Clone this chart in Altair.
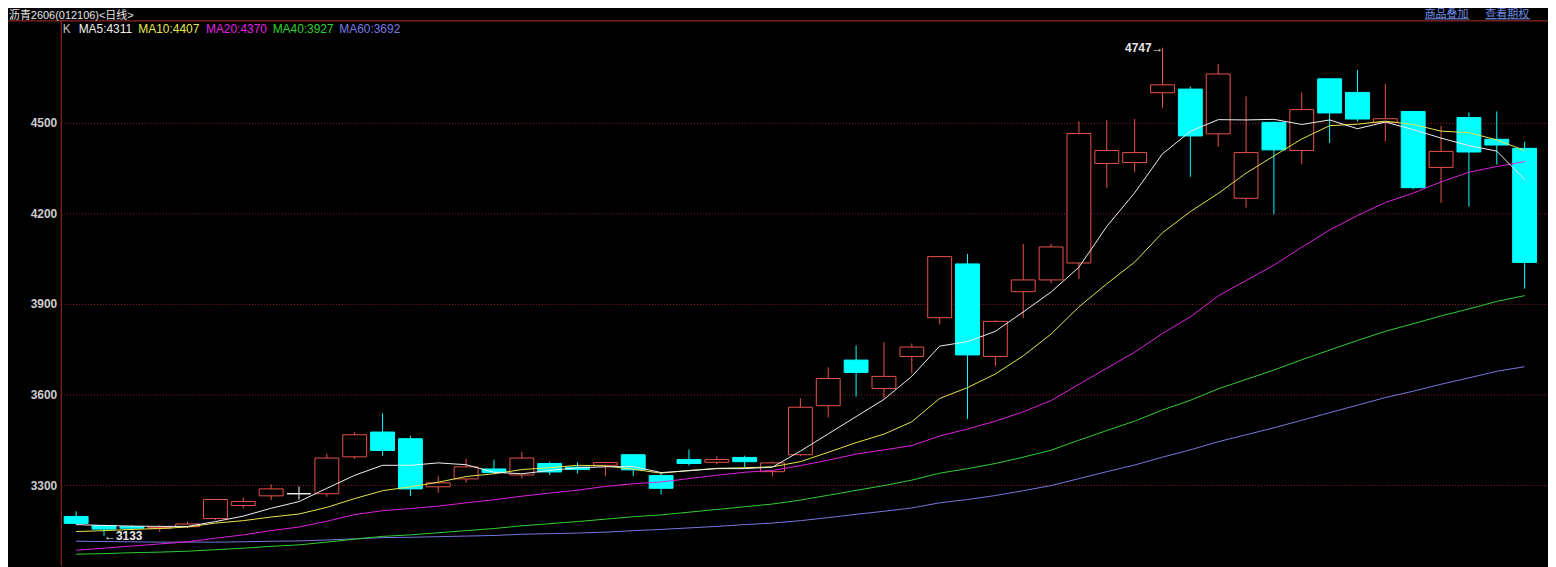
import altair as alt
import pandas as pd

# ---------------- data ----------------
opens = [3197, 3167, 3163, 3158, 3163, 3190, 3233, 3265, 3272, 3272,
         3394, 3476, 3454, 3295, 3321, 3354, 3334, 3372, 3360, 3366,
         3401, 3332, 3385, 3376, 3392, 3345, 3401, 3563, 3714, 3620,
         3726, 3854, 4032, 3726, 3940, 3979, 4035, 4364, 4367, 4598,
         4610, 4462, 4249, 4500, 4407, 4644, 4599, 4500, 4536, 4351,
         4516, 4444, 4414]
highs = [3214, 3170, 3168, 3168, 3180, 3255, 3260, 3303, 3296, 3404,
         3476, 3538, 3464, 3330, 3387, 3385, 3410, 3378, 3376, 3378,
         3401, 3341, 3418, 3396, 3398, 3378, 3588, 3690, 3762, 3773,
         3769, 4056, 4065, 3845, 4098, 4098, 4503, 4507, 4511, 4747,
         4618, 4693, 4586, 4503, 4599, 4644, 4673, 4627, 4536, 4489,
         4533, 4536, 4436]
lows = [3170, 3133, 3152, 3146, 3158, 3185, 3224, 3251, 3253, 3262,
        3387, 3398, 3264, 3275, 3308, 3339, 3323, 3334, 3339, 3330,
        3330, 3270, 3365, 3369, 3358, 3330, 3396, 3524, 3593, 3588,
        3670, 3832, 3519, 3694, 3854, 3968, 3982, 4284, 4335, 4547,
        4320, 4419, 4218, 4196, 4361, 4432, 4503, 4437, 4279, 4234,
        4221, 4361, 3950]
closes = [3174, 3155, 3158, 3161, 3172, 3253, 3246, 3288, 3272, 3390,
          3467, 3415, 3288, 3308, 3361, 3342, 3390, 3344, 3352, 3375,
          3351, 3290, 3372, 3385, 3378, 3374, 3558, 3653, 3673, 3660,
          3757, 4056, 3731, 3842, 3979, 4088, 4463, 4407, 4400, 4624,
          4455, 4660, 4400, 4409, 4542, 4531, 4511, 4512, 4284, 4404,
          4402, 4425, 4037]

ma5 = [3170, 3167, 3165, 3164, 3164, 3180, 3198, 3224, 3246, 3290,
       3333, 3366, 3366, 3374, 3368, 3343, 3338, 3349, 3358, 3361,
       3362, 3342, 3348, 3355, 3355, 3360, 3413, 3470, 3527, 3584,
       3660, 3760, 3775, 3809, 3873, 3939, 4021, 4156, 4267, 4396,
       4470, 4509, 4508, 4510, 4493, 4508, 4479, 4501, 4476, 4448,
       4423, 4405, 4311]
ma10 = [3147, 3150, 3154, 3157, 3162, 3175, 3183, 3195, 3205, 3227,
        3256, 3282, 3295, 3310, 3329, 3338, 3352, 3358, 3366, 3364,
        3353, 3340, 3349, 3356, 3358, 3361, 3378, 3409, 3441, 3469,
        3510, 3587, 3623, 3668, 3728, 3800, 3890, 3966, 4038, 4135,
        4205, 4265, 4332, 4389, 4445, 4489, 4494, 4504, 4493, 4471,
        4466, 4442, 4407]
ma20 = [3085, 3092, 3099, 3106, 3113, 3125, 3136, 3150, 3162, 3181,
        3203, 3216, 3223, 3231, 3242, 3252, 3264, 3274, 3284, 3296,
        3305, 3311, 3322, 3333, 3343, 3349, 3365, 3383, 3403, 3417,
        3431, 3463, 3486, 3512, 3543, 3580, 3634, 3687, 3740, 3802,
        3857, 3926, 3977, 4028, 4087, 4144, 4192, 4235, 4266, 4303,
        4335, 4354, 4370]
ma40 = [3072, 3074, 3077, 3079, 3082, 3087, 3092, 3098, 3103, 3112,
        3122, 3131, 3136, 3143, 3150, 3157, 3166, 3173, 3180, 3188,
        3196, 3202, 3211, 3220, 3229, 3238, 3251, 3267, 3283, 3299,
        3317, 3340, 3355, 3372, 3393, 3416, 3449, 3481, 3512, 3549,
        3581, 3619, 3650, 3681, 3715, 3747, 3779, 3809, 3834, 3860,
        3883, 3908, 3927]
ma60 = [3115, 3114, 3113, 3112, 3112, 3112, 3113, 3115, 3116, 3119,
        3123, 3127, 3128, 3130, 3132, 3134, 3138, 3140, 3142, 3145,
        3150, 3154, 3159, 3164, 3170, 3175, 3183, 3193, 3204, 3214,
        3225, 3242, 3253, 3266, 3282, 3299, 3322, 3345, 3367, 3393,
        3417, 3444, 3467, 3490, 3515, 3540, 3565, 3590, 3611, 3634,
        3655, 3677, 3692]

ma_names = ["MA5", "MA10", "MA20", "MA40", "MA60"]
y_ticks = [3300, 3600, 3900, 4200, 4500]
title_text = "沥青2606(012106)<日线>"
link_texts = ["商品叠加", "查看期权"]

# ---------------- styling ----------------
RED = "#e8544a"
CYAN = "#00ffff"
AXIS_RED = "#b0302c"
GRID_RED = "#9a2222"
MA_COLORS = ["#f0f0f0", "#e6e650", "#e020e0", "#30d030", "#7878e0"]
NUM_FONT = "Liberation Sans"
MIX_FONT = "Liberation Sans, Noto Sans CJK SC"

W, H = 1495, 548
xs = alt.Scale(domain=[-15.5 / 28, (W - 15.5) / 28], nice=False, zero=False)
ys = alt.Scale(domain=[4500 - (H - 102.5) / 0.304, 4500 + 102.5 / 0.304], nice=False, zero=False)

n = len(closes)
df = pd.DataFrame({"i": list(range(n)), "open": opens, "high": highs,
                   "low": lows, "close": closes})
df["dir"] = ["up" if c > o else ("down" if c < o else "flat") for o, c in zip(opens, closes)]

dir_stroke = alt.Scale(domain=["up", "down", "flat"], range=[RED, CYAN, "#ffffff"])
dir_fill = alt.Scale(domain=["up", "down", "flat"], range=["#000000", CYAN, "#ffffff"])

yaxis = alt.Axis(values=y_ticks, format="d", grid=True, gridColor=GRID_RED, gridDash=[1, 2],
                 gridWidth=1, ticks=False, domain=True, domainColor=AXIS_RED,
                 labelColor="#cccccc", labelFont=NUM_FONT, labelFontSize=12,
                 labelFontWeight="bold", labelPadding=4, title=None)

wick = alt.Chart(df).mark_rule(strokeWidth=1).encode(
    x=alt.X("i:Q", scale=xs, axis=None),
    y=alt.Y("low:Q", scale=ys, axis=yaxis),
    y2="high:Q",
    color=alt.Color("dir:N", scale=dir_stroke, legend=None),
)

body = alt.Chart(df).transform_calculate(
    xl="datum.i - 12/28", xr="datum.i + 12/28"
).mark_rect(strokeWidth=1).encode(
    x=alt.X("xl:Q", scale=xs, axis=None), x2="xr:Q",
    y=alt.Y("open:Q", scale=ys, axis=yaxis), y2="close:Q",
    fill=alt.Fill("dir:N", scale=dir_fill, legend=None),
    stroke=alt.Stroke("dir:N", scale=dir_stroke, legend=None),
)

layers = [wick, body]

ma_lists = [ma5, ma10, ma20, ma40, ma60]
for name, vals, col in reversed(list(zip(ma_names, ma_lists, MA_COLORS))):
    mdf = pd.DataFrame({"i": list(range(n)), "v": vals})
    layers.append(alt.Chart(mdf).mark_line(strokeWidth=1, color=col).encode(
        x=alt.X("i:Q", scale=xs, axis=None),
        y=alt.Y("v:Q", scale=ys, axis=yaxis),
    ))

# extremes annotations
imax = max(range(n), key=lambda k: highs[k])
imin = min(range(n), key=lambda k: lows[k])
hi_df = pd.DataFrame({"i": [imax], "v": [highs[imax]], "t": [f"{highs[imax]}→"]})
lo_df = pd.DataFrame({"i": [imin], "v": [lows[imin]], "t": [f"←{lows[imin]}"]})
layers.append(alt.Chart(hi_df).mark_text(align="right", baseline="middle", font=NUM_FONT,
                                         fontSize=12, fontWeight="bold", color="#e8e8e8", dx=1).encode(
    x=alt.X("i:Q", scale=xs, axis=None), y=alt.Y("v:Q", scale=ys, axis=yaxis), text="t:N"))
layers.append(alt.Chart(lo_df).mark_text(align="left", baseline="middle", font=NUM_FONT,
                                         fontSize=12, fontWeight="bold", color="#e8e8e8", dx=0).encode(
    x=alt.X("i:Q", scale=xs, axis=None), y=alt.Y("v:Q", scale=ys, axis=yaxis), text="t:N"))

# header: frame line
one = pd.DataFrame({"a": [0]})
layers.append(alt.Chart(one).mark_rule(color=AXIS_RED, strokeWidth=1).encode(
    x=alt.value(-53), x2=alt.value(W), y=alt.value(0.5)))

# title
layers.append(alt.Chart(pd.DataFrame({"t": [title_text]})).mark_text(
    align="left", baseline="alphabetic", font=MIX_FONT, fontSize=11, color="#e6e6e6").encode(
    x=alt.value(-52), y=alt.value(-1.5), text="t:N"))

# links top right
link_x = [1371, 1432]
for txt, lx in zip(link_texts, link_x):
    layers.append(alt.Chart(pd.DataFrame({"t": [txt]})).mark_text(
        align="left", baseline="alphabetic", font=MIX_FONT, fontSize=11, color="#6f8fe8").encode(
        x=alt.value(lx), y=alt.value(-2.5), text="t:N"))
    layers.append(alt.Chart(one).mark_rule(color="#6f8fe8", strokeWidth=1).encode(
        x=alt.value(lx), x2=alt.value(lx + 45), y=alt.value(-1.5)))

# legend row
legend_items = [("K", "#c0c0c0")] + [
    (f"{nm}:{vals[-1]}", col) for nm, vals, col in zip(ma_names, ma_lists, MA_COLORS)]
legend_x = [2, 18, 78, 146, 213, 280]
for (txt, col), lx in zip(legend_items, legend_x):
    layers.append(alt.Chart(pd.DataFrame({"t": [txt]})).mark_text(
        align="left", baseline="middle", font=NUM_FONT, fontSize=12, color=col).encode(
        x=alt.value(lx), y=alt.value(9), text="t:N"))

chart = alt.layer(*layers).properties(
    width=W, height=H,
    padding={"left": 53, "top": 11, "right": 0, "bottom": 0},
    autosize=alt.AutoSizeParams(type="none"),
    background="#000000",
).configure_view(stroke=None)

chart.save("out.html", embed_options={"renderer": "svg", "actions": False})
